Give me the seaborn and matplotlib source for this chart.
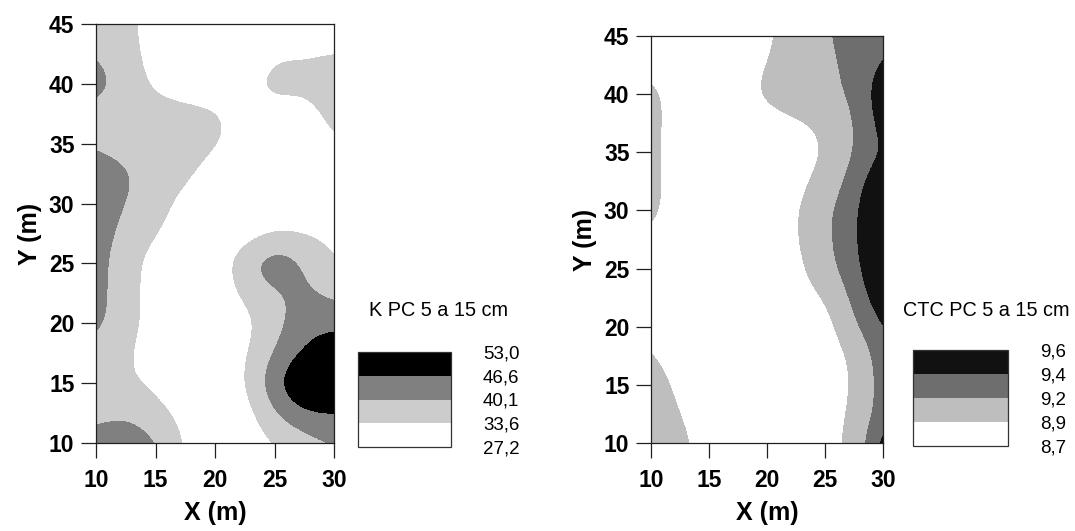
import numpy as np
import matplotlib
matplotlib.use("Agg")
import matplotlib.pyplot as plt
import seaborn as sns
from matplotlib.colors import ListedColormap, BoundaryNorm
import matplotlib.cm as cm

# ---- data (grid values, 2.5 m spacing) ----
x_m = [10, 12.5, 15, 17.5, 20, 22.5, 25, 27.5, 30]
y_m = [10, 12.5, 15, 17.5, 20, 22.5, 25, 27.5, 30, 32.5, 35, 37.5, 40, 42.5, 45]

k_values = [
    [42.5, 43.5, 42.0, 32.3, 29.0, 29.5, 33.0, 37.0, 39.8],
    [38.5, 40.0, 36.0, 31.0, 28.0, 30.0, 40.0, 46.0, 46.5],
    [33.3, 35.0, 32.0, 29.0, 28.0, 33.0, 45.5, 56.0, 56.0],
    [38.5, 35.0, 29.0, 28.0, 28.0, 32.5, 40.5, 47.8, 52.0],
    [42.0, 37.0, 30.0, 28.0, 29.0, 31.0, 37.5, 44.0, 45.0],
    [42.5, 37.0, 30.0, 28.0, 29.0, 35.0, 39.0, 42.0, 38.0],
    [42.5, 37.0, 30.0, 29.0, 29.0, 38.5, 46.5, 40.0, 33.0],
    [43.0, 38.5, 34.0, 30.0, 29.0, 30.0, 34.0, 33.5, 32.0],
    [43.0, 40.5, 36.0, 31.7, 29.0, 28.0, 28.0, 28.0, 29.0],
    [43.0, 41.5, 37.0, 35.0, 31.0, 29.0, 28.0, 28.0, 29.0],
    [39.5, 37.5, 36.5, 36.0, 34.5, 31.0, 29.0, 30.0, 33.5],
    [38.0, 37.0, 36.5, 36.0, 35.0, 31.0, 30.0, 31.0, 35.5],
    [43.0, 38.0, 32.0, 30.0, 29.0, 31.0, 37.0, 35.0, 37.0],
    [40.0, 37.0, 30.0, 28.0, 27.5, 28.0, 33.0, 33.2, 33.8],
    [38.0, 36.0, 30.0, 29.0, 28.0, 28.0, 29.0, 30.0, 30.0],
]

ctc_values = [
    [9.22, 8.95, 8.80, 8.76, 8.75, 8.75, 8.75, 9.00, 9.55],
    [9.05, 8.89, 8.78, 8.76, 8.75, 8.75, 8.74, 8.95, 9.36],
    [9.00, 8.85, 8.77, 8.75, 8.74, 8.73, 8.72, 8.90, 9.36],
    [8.93, 8.80, 8.76, 8.75, 8.74, 8.73, 8.72, 8.94, 9.38],
    [8.85, 8.78, 8.76, 8.75, 8.72, 8.72, 8.74, 9.18, 9.44],
    [8.84, 8.78, 8.76, 8.75, 8.75, 8.78, 8.88, 9.30, 9.53],
    [8.86, 8.79, 8.76, 8.75, 8.76, 8.80, 9.10, 9.37, 9.56],
    [8.87, 8.80, 8.76, 8.75, 8.77, 8.85, 9.15, 9.39, 9.57],
    [8.96, 8.80, 8.76, 8.75, 8.78, 8.85, 9.15, 9.39, 9.56],
    [8.97, 8.80, 8.76, 8.75, 8.77, 8.80, 9.00, 9.34, 9.55],
    [8.96, 8.80, 8.76, 8.75, 8.77, 8.80, 8.87, 9.23, 9.43],
    [8.97, 8.80, 8.76, 8.76, 8.80, 8.85, 8.94, 9.20, 9.50],
    [8.97, 8.80, 8.76, 8.80, 8.96, 9.05, 9.12, 9.24, 9.55],
    [8.85, 8.78, 8.76, 8.80, 8.90, 9.02, 9.13, 9.28, 9.43],
    [8.80, 8.78, 8.76, 8.78, 8.86, 9.00, 9.18, 9.30, 9.37],
]

k_levels = [27.2, 33.6, 40.1, 46.6, 53.0]
ctc_levels = [8.7, 8.9, 9.2, 9.4, 9.6]
k_title = "K PC 5 a 15 cm"
ctc_title = "CTC PC 5 a 15 cm"
k_colors = ["#ffffff", "#cccccc", "#808080", "#000000"]
ctc_colors = ["#ffffff", "#bebebe", "#6e6e6e", "#111111"]
x_ticks = [10, 15, 20, 25, 30]
y_ticks = [10, 15, 20, 25, 30, 35, 40, 45]

# ---- style ----
sns.set_theme(style="ticks")
plt.rcParams["font.family"] = ["Liberation Sans", "DejaVu Sans"]
plt.rcParams["text.color"] = "black"
plt.rcParams["axes.labelcolor"] = "black"
plt.rcParams["xtick.color"] = "black"
plt.rcParams["ytick.color"] = "black"

W, H = 1075, 531
fig = plt.figure(figsize=(W / 100, H / 100), dpi=100)
fig.patch.set_facecolor("white")


def px_rect(x0, y0, x1, y1):
    return [x0 / W, (H - y1) / H, (x1 - x0) / W, (y1 - y0) / H]


def make_cmap(colors, levels):
    cmap = ListedColormap(colors)
    cmap.set_under(colors[0])
    cmap.set_over(colors[-1])
    norm = BoundaryNorm(levels, len(colors))
    return cmap, norm


def draw_map(rect, values, levels, colors):
    ax = fig.add_axes(px_rect(*rect))
    cmap, norm = make_cmap(colors, levels)
    dx = (x_m[1] - x_m[0]) / 2
    dy = (y_m[1] - y_m[0]) / 2
    ax.imshow(np.array(values), origin="lower", cmap=cmap, norm=norm,
              interpolation="bicubic", interpolation_stage="data",
              extent=[x_m[0] - dx, x_m[-1] + dx, y_m[0] - dy, y_m[-1] + dy],
              aspect="auto")
    ax.set_xlim(10, 30)
    ax.set_ylim(10, 45)
    ax.set_xticks(x_ticks)
    ax.set_yticks(y_ticks)
    for sp in ax.spines.values():
        sp.set_linewidth(0.9)
        sp.set_color("#202020")
    ax.tick_params(direction="out", length=10.5, width=0.9, color="#202020",
                   labelsize=16.5, pad=5)
    ax.tick_params(axis="x", pad=8)
    for lab in ax.get_xticklabels() + ax.get_yticklabels():
        lab.set_fontweight("bold")
    ax.set_xlabel("X (m)", fontsize=18, fontweight="bold", labelpad=7)
    ax.set_ylabel("Y (m)", fontsize=18, fontweight="bold", labelpad=5)
    ax.grid(False)
    return cmap, norm


def draw_legend(rect, cmap, norm, levels, title, title_xy):
    cax = fig.add_axes(px_rect(*rect))
    sm = cm.ScalarMappable(norm=norm, cmap=cmap)
    cb = fig.colorbar(sm, cax=cax, ticks=levels, spacing="uniform")
    cb.ax.set_yticklabels([f"{v:.1f}".replace(".", ",") for v in levels])
    cb.ax.tick_params(length=0, labelsize=13.5, pad=23)
    cb.outline.set_linewidth(0.9)
    cb.outline.set_edgecolor("#333333")
    fig.text(title_xy[0] / W, 1 - title_xy[1] / H, title, fontsize=14.3,
             ha="left", va="center")


cmap_k, norm_k = draw_map((96, 24, 334, 443), k_values, k_levels, k_colors)
draw_legend((358, 352, 451, 447), cmap_k, norm_k, k_levels, k_title, (369, 310))

cmap_c, norm_c = draw_map((651, 36, 883, 443), ctc_values, ctc_levels, ctc_colors)
draw_legend((913, 350, 1008, 446), cmap_c, norm_c, ctc_levels, ctc_title, (903, 310))

fig.savefig("out.png", dpi=100, facecolor="white")
